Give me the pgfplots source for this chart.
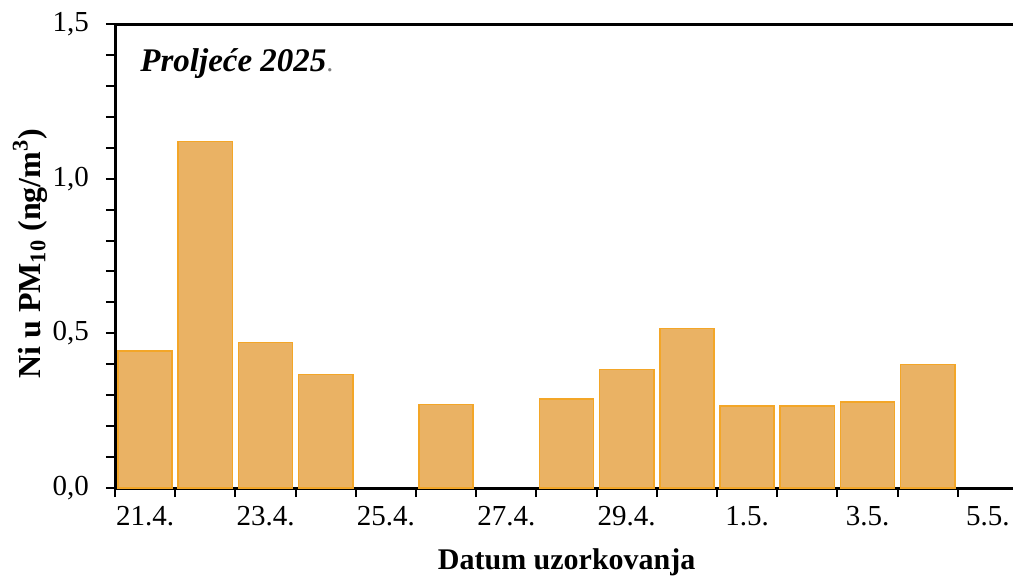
\documentclass[border=0pt]{standalone}
\usepackage{fontspec}
\setmainfont{Liberation Serif}
\usepackage{pgfplots}
\pgfplotsset{compat=1.18}
\definecolor{barfill}{RGB}{234,178,100}
\definecolor{bardraw}{RGB}{243,166,40}
\begin{document}
\begin{tikzpicture}
\begin{axis}[
  scale only axis, width=449pt, height=232pt,
  xmin=-0.5, xmax=14.417, ymin=0, ymax=1.5,
  axis x line=box, axis y line=left,
  axis line style={-, line width=1.5pt, black},
  tick align=outside, xtick pos=left, ytick pos=left,
  major tick length=4.5pt, minor tick length=4.5pt,
  every tick/.style={black, line width=1pt},
  xtick={0,2,...,14},
  xticklabels={21.4.,23.4.,25.4.,27.4.,29.4.,1.5.,3.5.,5.5.},
  minor xtick={-0.5,0.5,...,13.5},
  major x tick style={draw=none},
  ytick={0,0.5,1,1.5}, minor y tick num=4,
  yticklabel style={xshift=-5pt, /pgf/number format/fixed, /pgf/number format/fixed zerofill, /pgf/number format/precision=1, /pgf/number format/use comma},
  xticklabel style={yshift=-1pt},
  /pgf/number format/assume math mode=true,
  tick label style={font=\fontsize{14.5}{16}\selectfont},
  xlabel={Datum uzorkovanja},
  xlabel style={font=\bfseries\fontsize{15}{17}\selectfont, at={(axis description cs:0.503,0)}, yshift=-37pt, anchor=center},
  ylabel={Ni u PM\textsubscript{10} (ng/m\textsuperscript{3})},
  ylabel style={font=\bfseries\fontsize{16}{18}\selectfont, at={(axis description cs:-0.0947,0.505)}, anchor=center},
  clip=true,
]
\addplot[ybar, bar width=0.9, fill=barfill, draw=bardraw, line width=0.8pt] coordinates {
  (0,0.442) (1,1.120) (2,0.471) (3,0.367) (5,0.270) (7,0.287)
  (8,0.383) (9,0.516) (10,0.265) (11,0.265) (12,0.278) (13,0.399)
};
\end{axis}
\node[anchor=base west, font=\bfseries\itshape\fontsize{16.5}{18}\selectfont, inner sep=0pt]
  at ([shift={(12.5pt,-23.5pt)}]current axis.north west) {Proljeće 2025\textcolor{gray}{\normalfont\fontsize{14}{16}\selectfont.}};
\pgfresetboundingbox
\path ([shift={(-57.5pt,-43.5pt)}]current axis.south west) rectangle ([shift={(0pt,12pt)}]current axis.north east);
\end{tikzpicture}
\end{document}
